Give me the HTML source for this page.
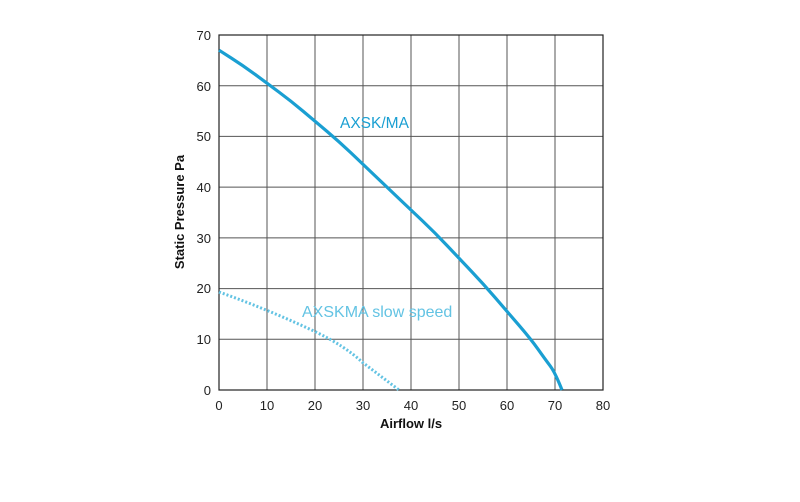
<!DOCTYPE html>
<html><head><style>body{margin:0;background:#fff}svg{display:block}</style></head><body>
<svg width="800" height="502" xmlns="http://www.w3.org/2000/svg" font-family="Liberation Sans, sans-serif">
<g stroke="#555" stroke-width="1">
<line x1="267" y1="35" x2="267" y2="390"/><line x1="315" y1="35" x2="315" y2="390"/><line x1="363" y1="35" x2="363" y2="390"/><line x1="411" y1="35" x2="411" y2="390"/><line x1="459" y1="35" x2="459" y2="390"/><line x1="507" y1="35" x2="507" y2="390"/><line x1="555" y1="35" x2="555" y2="390"/>
<line x1="219" y1="339.3" x2="603" y2="339.3"/><line x1="219" y1="288.6" x2="603" y2="288.6"/><line x1="219" y1="237.9" x2="603" y2="237.9"/><line x1="219" y1="187.1" x2="603" y2="187.1"/><line x1="219" y1="136.4" x2="603" y2="136.4"/><line x1="219" y1="85.7" x2="603" y2="85.7"/>
</g>
<rect x="219" y="35" width="384" height="355" fill="none" stroke="#222" stroke-width="1.2"/>
<path d="M219,50.2 L231,57.85 Q243,65.5 255,74.35 Q267,83.2 279,92.1 Q291,101 303,111.1 Q315,121.2 327,131.35 Q339,141.5 351,152.9 Q363,164.3 375,175.75 Q387,187.2 399,198.6 Q411,210 423,221.4 Q435,232.8 447,245.5 Q459,258.2 471,270.85 Q483,283.5 495,297.45 Q507,311.4 519,325.35 Q531,339.3 538.2,349.45 Q545.4,359.6 550.2,365.95 Q555,372.3 562,390" fill="none" stroke="#1a9fd2" stroke-width="3.2"/>
<path d="M219,292 Q267,309 315,331.6 Q345,346 362,362 L399,390" fill="none" stroke="#63c3e3" stroke-width="3" stroke-dasharray="2,2"/>
<text x="340" y="128" font-size="15.5" fill="#1a9fd2">AXSK/MA</text>
<text x="302" y="317" font-size="16" fill="#63c3e3">AXSKMA slow speed</text>
<g font-size="13" fill="#222" text-anchor="end">
<text x="211" y="395">0</text><text x="211" y="344">10</text><text x="211" y="293">20</text><text x="211" y="243">30</text><text x="211" y="192">40</text><text x="211" y="141">50</text><text x="211" y="91">60</text><text x="211" y="40">70</text>
</g>
<g font-size="13" fill="#222" text-anchor="middle">
<text x="219" y="410">0</text><text x="267" y="410">10</text><text x="315" y="410">20</text><text x="363" y="410">30</text><text x="411" y="410">40</text><text x="459" y="410">50</text><text x="507" y="410">60</text><text x="555" y="410">70</text><text x="603" y="410">80</text>
</g>
<text x="411" y="428" font-size="13" font-weight="bold" text-anchor="middle" fill="#111">Airflow l/s</text>
<text transform="translate(184,212) rotate(-90)" font-size="13" font-weight="bold" text-anchor="middle" fill="#111">Static Pressure Pa</text>
</svg>
</body></html>
